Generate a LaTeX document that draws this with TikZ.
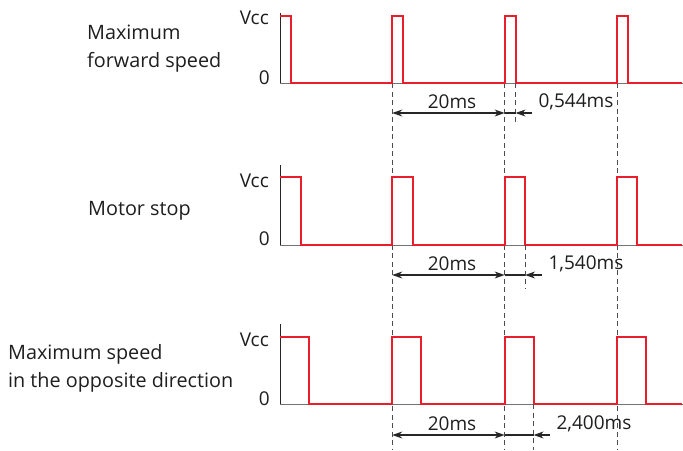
\documentclass[tikz,border=0pt]{standalone}
\usepackage{fontspec}
\setmainfont{Open Sans}
\usetikzlibrary{arrows.meta}
\definecolor{sigred}{RGB}{232,30,44}
\definecolor{txt}{RGB}{30,30,30}
\begin{document}
\begin{tikzpicture}[x=1pt,y=-1pt,
  sig/.style={sigred, line width=2pt, line join=miter},
  base/.style={black!55, line width=1pt},
  axis/.style={black!85, line width=0.9pt},
  guide/.style={black!70, line width=0.8pt, dash pattern=on 5pt off 3.5pt},
  dim/.style={black!85, line width=1.1pt},
  tip/.style={-{Stealth[length=10pt,width=7pt]}},
  lbl/.style={font=\fontsize{19}{28}\selectfont, text=txt, inner sep=0pt},
  ttl/.style={font=\fontsize{19.8}{28}\selectfont, text=txt, inner sep=0pt, anchor=west, align=left},
  lvl/.style={font=\fontsize{19}{22}\selectfont, text=txt, inner sep=0pt, anchor=east},
]
\useasboundingbox (0,0) rectangle (683,450);
\def\xa{280}\def\xb{392.3}\def\xc{504.6}\def\xd{616.9}\def\xe{683}
% long dashed guides
\foreach \gx/\nm in {\xb/gb,\xc/gc,\xd/gd}{
  \coordinate (\nm top) at (\gx,83);
  \coordinate (\nm bot) at (\gx,450);
  \draw[guide] (\nm top) -- (\nm bot);
}
% panels: top of axis, vcc level, zero level, pulse width
\foreach \p/\top/\hi/\lo/\w in {1/13/16/83/11, 2/165/177/245/20.5, 3/324/337/404/29}{
  \draw[axis] (\xa,\top) -- (\xa,\lo);
  \draw[base] (\xa,\lo) -- (\xe,\lo);
  \draw[sig] (\xa,\hi) -- ++(\w,0) -- (\xa+\w,\lo)
    -- (\xb,\lo) -- (\xb,\hi) -- (\xb+\w,\hi) -- (\xb+\w,\lo)
    -- (\xc,\lo) -- (\xc,\hi) -- (\xc+\w,\hi) -- (\xc+\w,\lo)
    -- (\xd,\lo) -- (\xd,\hi) -- (\xd+\w,\hi) -- (\xd+\w,\lo)
    -- (\xe-1,\lo);
}
% short dashed guides
\coordinate (s1top) at (515.6,83);  \coordinate (s1bot) at (515.6,125);
\coordinate (s2top) at (525.1,245); \coordinate (s2bot) at (525.1,288);
\coordinate (s3top) at (533.6,404); \coordinate (s3bot) at (533.6,450);
\draw[guide] (s1top) -- (s1bot);
\draw[guide] (s2top) -- (s2bot);
\draw[guide] (s3top) -- (s3bot);
% dimension arrows
\foreach \p/\yy/\xs/\xt in {1/113/515.6/532, 2/275/525.1/542, 3/435/533.6/550}{
  \coordinate (a\p) at (\xb,\yy);
  \coordinate (b\p) at (\xc,\yy);
  \coordinate (c\p) at (\xs,\yy);
  \coordinate (d\p) at (\xt,\yy);
  \draw[dim,{Stealth[length=10pt,width=7pt]}-{Stealth[length=10pt,width=7pt]}] (a\p) -- (b\p);
  \draw[dim] (b\p) -- (c\p);
  \draw[dim,tip] (d\p) -- (c\p);
}
% dimension labels
\node[lbl] (t20a) at (452,102) {20ms};
\node[lbl] (t20b) at (452,264) {20ms};
\node[lbl] (t20c) at (452,424) {20ms};
\node[lbl] (ta) at (576,102) {0,544ms};
\node[lbl] (tb) at (586,264) {1,540ms};
\node[lbl] (tc) at (594,424) {2,400ms};
% level labels
\node[lvl] (v1) at (269,18) {Vcc};
\node[lvl] (z1) at (270,78) {0};
\node[lvl] (v2) at (269,181) {Vcc};
\node[lvl] (z2) at (270,239) {0};
\node[lvl] (v3) at (269,340) {Vcc};
\node[lvl] (z3) at (270,399) {0};
% titles
\node[ttl] (m1) at (87,49) {Maximum\\forward speed};
\node[ttl] (m2) at (88,211) {Motor stop};
\node[ttl] (m3) at (8,368) {Maximum speed\\in the opposite direction};
\end{tikzpicture}
\end{document}
